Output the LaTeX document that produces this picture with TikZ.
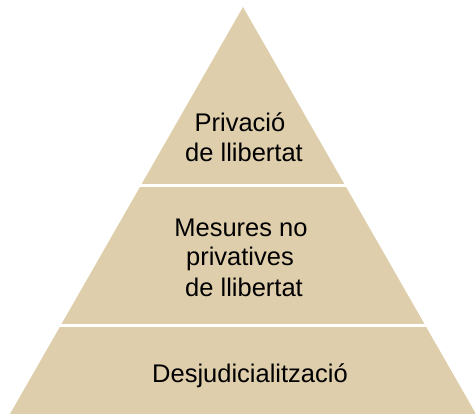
\documentclass[tikz,border=0pt]{standalone}
\usepackage{fontspec}
\setmainfont{Liberation Sans}
\usetikzlibrary{calc}
\definecolor{beige}{RGB}{223,206,171}
\begin{document}
\begin{tikzpicture}[x=1pt,y=-1pt,
  txt/.style={font=\fontsize{25.5}{30}\selectfont, text=black, anchor=base, inner sep=0pt},
  sep/.style={draw=white, line width=3pt, shorten <=-3pt, shorten >=-3pt}]
\useasboundingbox (0,0) rectangle (475,414);
\coordinate (A) at (243,7);
\coordinate (L) at (10,414);
\coordinate (R) at (476,414);
\fill[beige] (A) -- (R) -- (L) -- cycle;
\coordinate (s1l) at ($(A)!0.4386!(L)$);
\coordinate (s1r) at ($(A)!0.4386!(R)$);
\coordinate (s2l) at ($(A)!0.7826!(L)$);
\coordinate (s2r) at ($(A)!0.7826!(R)$);
\draw[sep] (s1l) -- (s1r);
\draw[sep] (s2l) -- (s2r);
\node[txt] (t1) at (240,132) {Privació};
\node[txt] (t2) at (244,162) {de llibertat};
\node[txt] (m1) at (241,237) {Mesures no};
\node[txt] (m2) at (240,266) {privatives};
\node[txt] (m3) at (244,297) {de llibertat};
\node[txt] (b1) at (250,383) {Desjudicialització};
\end{tikzpicture}
\end{document}
